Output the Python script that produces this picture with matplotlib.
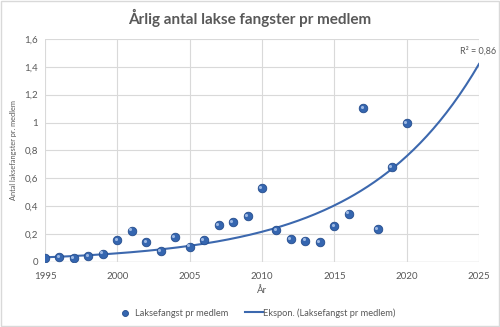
import matplotlib.pyplot as plt
import numpy as np
from matplotlib.patches import Rectangle

plt.rcParams['font.family'] = ['Lato', 'DejaVu Sans']

# data
years = np.arange(1995, 2021)
catch = [0.03, 0.035, 0.03, 0.04, 0.06, 0.155, 0.225, 0.14, 0.08, 0.18,
         0.11, 0.16, 0.265, 0.285, 0.33, 0.53, 0.23, 0.163, 0.153, 0.143,
         0.26, 0.347, 1.107, 0.237, 0.68, 0.995]
# Excel exponential trendline, read at its two ends (R² = 0,86 as printed)
trend_years = [1995, 2025]
trend_vals = [0.033, 1.42]
xticks = [1995, 2000, 2005, 2010, 2015, 2020, 2025]
yticks = [0, 0.2, 0.4, 0.6, 0.8, 1.0, 1.2, 1.4, 1.6]
ylabels = ['0', '0,2', '0,4', '0,6', '0,8', '1', '1,2', '1,4', '1,6']

txt = '#595959'
grid = '#D9D9D9'
blue = '#3C68AE'

# y = a * exp(b x) through the two read points
b = np.log(trend_vals[1] / trend_vals[0]) / (trend_years[1] - trend_years[0])
tx = np.linspace(trend_years[0], trend_years[1], 200)
ty = trend_vals[0] * np.exp(b * (tx - trend_years[0]))

fig = plt.figure(figsize=(5, 3.27), dpi=100)
ax = fig.add_axes([0.09, 0.199, 0.868, 0.682])

ax.plot(tx, ty, color=blue, lw=1.5, label='Ekspon. (Laksefangst pr medlem)', zorder=2)
ax.scatter(years, catch, s=38, color='#3566B0', edgecolor='#244C8C', lw=0.6,
           label='Laksefangst pr medlem', zorder=3)
# small highlight for a rounded look
ax.scatter(years - 0.12, np.array(catch) + 0.008, s=5, color='#9DB8E3', lw=0, zorder=4)

ax.set_xlim(1995, 2025)
ax.set_ylim(0, 1.6)
ax.set_xticks(xticks)
ax.set_yticks(yticks)
ax.set_yticklabels(ylabels)
ax.grid(True, color=grid, lw=0.8)
ax.set_axisbelow(True)
for s in ax.spines.values():
    s.set_visible(False)
ax.axhline(0, color=grid, lw=1.0, zorder=1)
ax.tick_params(length=0, labelsize=7, colors=txt)
ax.tick_params(axis='x', pad=7)
ax.tick_params(axis='y', pad=5)

ax.set_xlabel('År', fontsize=7, color=txt, labelpad=4)
ax.set_ylabel('Antal laksefangster pr. medlem', fontsize=5.3, color=txt, labelpad=5)
fig.text(0.5, 0.945, 'Årlig antal lakse fangster pr medlem', ha='center', va='center',
         fontsize=11, fontweight='bold', color=txt)
fig.text(0.992, 0.843, 'R² = 0,86', ha='right', va='center', fontsize=6.5, color=txt)

h, l = ax.get_legend_handles_labels()
fig.legend([h[1], h[0]], [l[1], l[0]], loc='center', bbox_to_anchor=(0.512, 0.043),
           ncol=2, frameon=False, fontsize=6.7, labelcolor=txt, columnspacing=1.8,
           handlelength=1.9, handletextpad=0.1, markerscale=0.7)

fig.patches.append(Rectangle((0.002, 0.003), 0.996, 0.994, transform=fig.transFigure,
                             fill=False, edgecolor='#D9D9D9', lw=1))

plt.savefig('out.png', dpi=100)
